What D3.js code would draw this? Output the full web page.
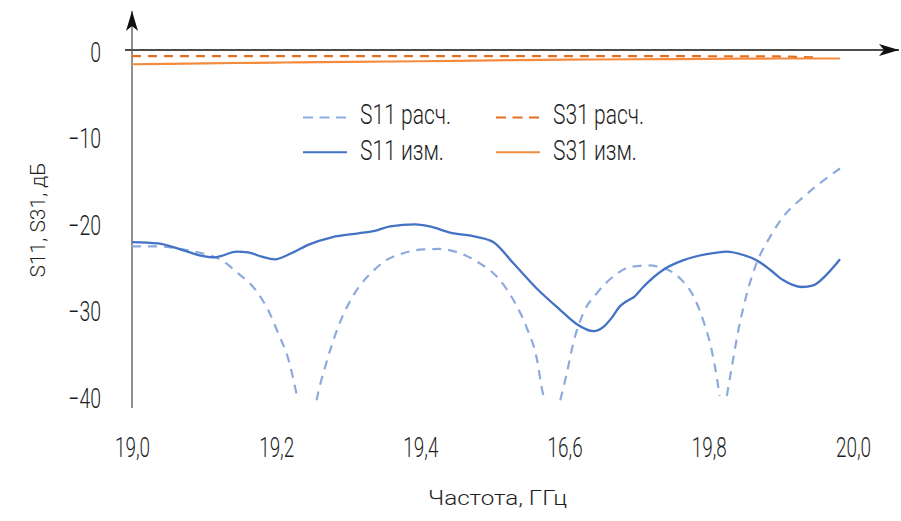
<!DOCTYPE html>
<html><head><meta charset="utf-8">
<script src="https://cdn.jsdelivr.net/npm/d3@7"></script>
<style>
html,body{margin:0;padding:0;background:#fff;}
svg text{font-family:Roboto,"DejaVu Sans",sans-serif;font-weight:300;fill:#1e1e1e;}
</style></head>
<body><svg id="c" width="901" height="521"></svg>
<script>
// ---- data ----
const xTickValues = [19.0, 19.2, 19.4, 19.6, 19.8, 20.0];
const xTickLabels = ["19,0", "19,2", "19,4", "16,6", "19,8", "20,0"];
const yTickValues = [0, -10, -20, -30, -40];
const yTickLabels = ["0", "\u221210", "\u221220", "\u221230", "\u221240"];

// S11 calculated (null = curve runs below the plot floor)
const s11CalcFreq = [19.0, 19.036, 19.074, 19.097, 19.124, 19.147, 19.171, 19.189, 19.203, 19.217, 19.226, 19.230,
  19.2305, 19.256, 19.258, 19.268, 19.286, 19.309, 19.335, 19.349, 19.376, 19.404, 19.427, 19.455, 19.483, 19.506, 19.529, 19.547, 19.561, 19.570, 19.573,
  19.58, 19.594, 19.603, 19.612, 19.626, 19.645, 19.672, 19.69, 19.714, 19.737, 19.76, 19.779, 19.792, 19.804, 19.811, 19.815,
  19.82, 19.825, 19.832, 19.841, 19.853, 19.866, 19.885, 19.903, 19.931, 19.954, 19.982];
const s11CalcVal = [-22.7, -22.7, -23.1, -23.5, -24.3, -25.8, -27.7, -30.1, -32.8, -35.8, -38.9, -40.5,
  null, -40.5, -39.7, -36.6, -32.0, -28.1, -25.5, -24.5, -23.5, -23.05, -23.0, -23.5, -24.7, -26.2, -28.9, -32.0, -35.5, -39.7, -40.5,
  null, -40.5, -37.4, -33.9, -30.4, -28.1, -25.9, -25.1, -24.9, -25.2, -26.4, -28.5, -31.2, -34.7, -37.8, -40.0,
  null, -40.0, -36.6, -32.4, -28.1, -24.7, -21.6, -19.3, -17.0, -15.4, -13.7];

// S11 measured
const s11MeasFreq = [19.0, 19.036, 19.069, 19.092, 19.115, 19.124, 19.145, 19.161, 19.18, 19.198, 19.221, 19.245, 19.277, 19.314, 19.335,
  19.358, 19.393, 19.413, 19.441, 19.478, 19.501, 19.529, 19.561, 19.594, 19.617, 19.64, 19.654, 19.665, 19.676, 19.685, 19.697, 19.709,
  19.737, 19.765, 19.797, 19.825, 19.848, 19.866, 19.885, 19.903, 19.929, 19.945, 19.963, 19.982];
const s11MeasVal = [-22.2, -22.35, -23.1, -23.7, -23.97, -23.8, -23.3, -23.4, -23.9, -24.2, -23.5, -22.5, -21.65, -21.2, -20.95,
  -20.4, -20.15, -20.4, -21.1, -21.6, -22.2, -24.66, -27.55, -30.06, -31.7, -32.5, -32.0, -31.0, -29.7, -29.1, -28.5, -27.4,
  -25.4, -24.3, -23.6, -23.3, -23.7, -24.3, -25.4, -26.6, -27.4, -27.2, -26.0, -24.2];

// S31 calculated
const s31CalcFreq = [19.0, 19.2, 19.4, 19.6, 19.8, 19.9, 19.945];
const s31CalcVal = [-0.7, -0.7, -0.7, -0.7, -0.72, -0.75, -0.85];

// S31 measured
const s31MeasFreq = [19.0, 19.1, 19.2, 19.3, 19.4, 19.5, 19.6, 19.7, 19.8, 19.9, 19.982];
const s31MeasVal = [-1.65, -1.55, -1.45, -1.38, -1.3, -1.2, -1.12, -1.07, -1.02, -0.98, -0.98];

const seriesNames = ["S11 расч.", "S11 изм.", "S31 расч.", "S31 изм."];
const xTitle = "Частота, ГГц";
const yTitle = "S11, S31, дБ";

// ---- drawing ----
const svg = d3.select("#c");
const x = d3.scaleLinear().domain([19, 20]).range([132, 853]);
const y = d3.scaleLinear().domain([-40, 0]).range([396, 50]);

const colS11c = "#8eaadd", colS11m = "#4472c4", colS31c = "#e2701f", colS31m = "#f48a3e";

// axes lines with arrows
const defs = svg.append("defs");
defs.append("marker").attr("id", "arr").attr("viewBox", "0 0 20 12").attr("refX", 20).attr("refY", 6)
  .attr("markerWidth", 20).attr("markerHeight", 12).attr("markerUnits", "userSpaceOnUse").attr("orient", "auto")
  .append("path").attr("d", "M0,0 L20,6 L0,12 L5,6 Z").attr("fill", "#111");

svg.append("line").attr("x1", 125).attr("x2", 899).attr("y1", y(0)).attr("y2", y(0))
  .attr("stroke", "#111").attr("stroke-width", 1.3).attr("marker-end", "url(#arr)");
svg.append("line").attr("x1", x(19)).attr("x2", x(19)).attr("y1", 408).attr("y2", 11)
  .attr("stroke", "#555").attr("stroke-width", 1.3).attr("marker-end", "url(#arr)");

// tick labels via axes
const xAxis = d3.axisBottom(x).tickValues(xTickValues).tickSize(0).tickPadding(0)
  .tickFormat((d, i) => xTickLabels[i]);
const gx = svg.append("g").attr("transform", "translate(0,447)").call(xAxis);
gx.select(".domain").remove();
gx.attr("font-family", null).attr("font-size", null);
gx.selectAll("text").attr("font-size", 27).attr("y", 0).attr("dy", "0.36em").attr("transform", "scale(0.7,1)");

const yAxis = d3.axisLeft(y).tickValues(yTickValues).tickSize(0).tickPadding(0)
  .tickFormat((d, i) => yTickLabels[i]);
const gy = svg.append("g").attr("transform", "translate(101,1.5)").call(yAxis);
gy.select(".domain").remove();
gy.attr("font-family", null).attr("font-size", null);
gy.selectAll("text").attr("font-size", 27).attr("dy", "0.36em").attr("transform", "scale(0.72,1)");
svg.selectAll(".tick text").attr("fill", "#1e1e1e");

// titles
svg.append("text").attr("x", 497.5).attr("y", 497).attr("dy", "0.36em").attr("text-anchor", "middle")
  .attr("font-size", 21).attr("textLength", 139).attr("lengthAdjust", "spacingAndGlyphs").text(xTitle);
svg.append("text").attr("transform", "translate(37.5,220) rotate(-90)").attr("dy", "0.36em").attr("text-anchor", "middle")
  .attr("font-size", 21).attr("textLength", 115).attr("lengthAdjust", "spacingAndGlyphs").text(yTitle);

// lines
const mk = (fx, fy) => fx.map((f, i) => ({f: f, v: fy[i]}));
const line = d3.line().defined(d => d.v !== null).x(d => x(d.f)).y(d => y(d.v)).curve(d3.curveMonotoneX);

svg.append("path").datum(mk(s31CalcFreq, s31CalcVal)).attr("d", line).attr("fill", "none")
  .attr("stroke", colS31c).attr("stroke-width", 2.2).attr("stroke-dasharray", "9,7");
svg.append("path").datum(mk(s31MeasFreq, s31MeasVal)).attr("d", line).attr("fill", "none")
  .attr("stroke", colS31m).attr("stroke-width", 2.2);
svg.append("path").datum(mk(s11CalcFreq, s11CalcVal)).attr("d", line).attr("fill", "none")
  .attr("stroke", colS11c).attr("stroke-width", 2.2).attr("stroke-dasharray", "9,7");
svg.append("path").datum(mk(s11MeasFreq, s11MeasVal)).attr("d", line).attr("fill", "none")
  .attr("stroke", colS11m).attr("stroke-width", 2.3);

// legend
const legend = [
  {name: seriesNames[0], col: colS11c, dash: "10,6.5", lx: 303, ly: 117.5, ty: 114.7},
  {name: seriesNames[1], col: colS11m, dash: null, lx: 303, ly: 152.3, ty: 150},
  {name: seriesNames[2], col: colS31c, dash: "10,6.5", lx: 496, ly: 117.5, ty: 114.7},
  {name: seriesNames[3], col: colS31m, dash: null, lx: 496, ly: 152.3, ty: 150}
];
const lg = svg.append("g").selectAll("g").data(legend).join("g");
lg.append("line").attr("x1", d => d.lx).attr("x2", d => d.lx + 44).attr("y1", d => d.ly).attr("y2", d => d.ly)
  .attr("stroke", d => d.col).attr("stroke-width", 2).attr("stroke-dasharray", d => d.dash);
lg.append("text").attr("transform", d => `translate(${d.lx + 57},${d.ty}) scale(0.78,1)`).attr("dy", "0.36em")
  .attr("font-size", 27).text(d => d.name);
</script></body></html>
